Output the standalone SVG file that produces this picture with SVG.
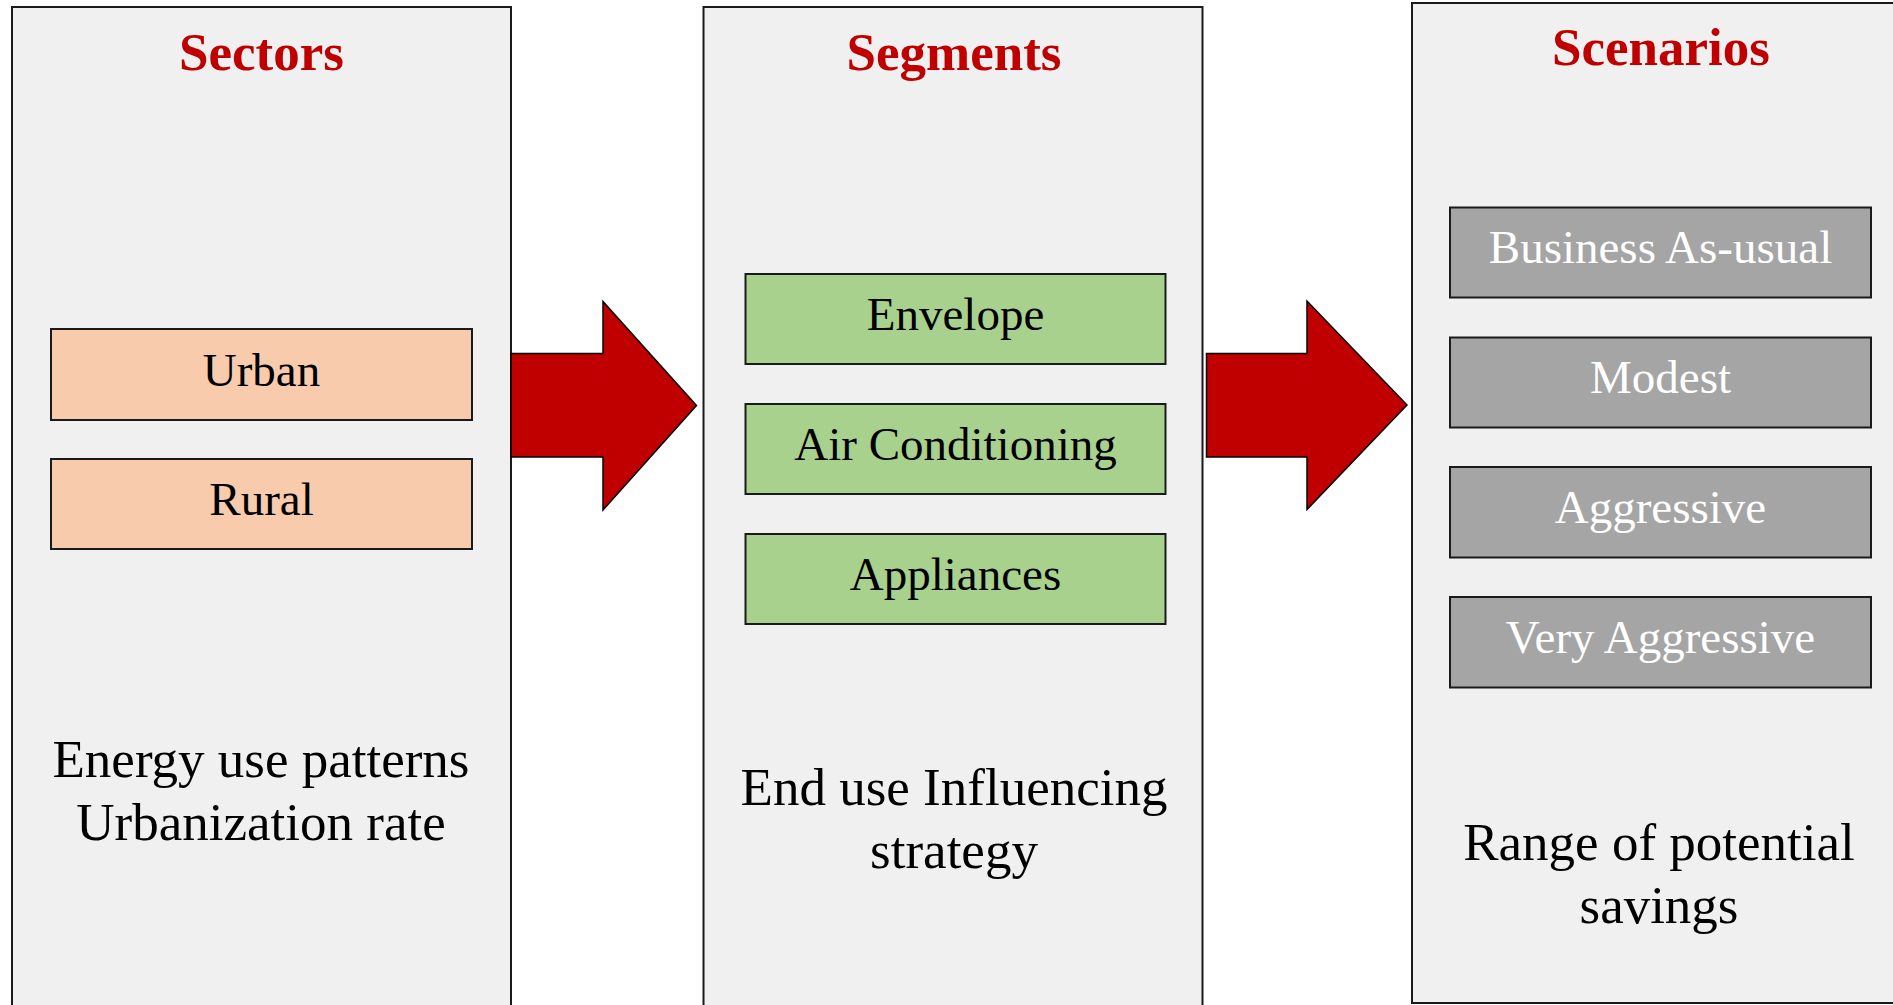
<svg xmlns="http://www.w3.org/2000/svg" width="1893" height="1005" viewBox="0 0 1893 1005">
  <style>
    .panel { fill: #f0f0f0; stroke: #1a1a1a; stroke-width: 2; }
    .title { font-family: "Liberation Serif", "Times New Roman", serif; font-weight: bold; font-size: 53px; fill: #c00000; text-anchor: middle; }
    .box { stroke: #1a1a1a; stroke-width: 2; }
    .sector { fill: #f8cbad; }
    .segment { fill: #a9d18e; }
    .scenario { fill: #a5a5a5; }
    .label { font-family: "Liberation Serif", "Times New Roman", serif; font-size: 47px; fill: #000; text-anchor: middle; }
    .label.light { fill: #ffffff; }
    .note { font-family: "Liberation Serif", "Times New Roman", serif; font-size: 53px; fill: #000; text-anchor: middle; }
    .arrow { fill: #c00000; stroke: #000; stroke-width: 1.5; stroke-linejoin: miter; }
  </style>
  <rect x="0" y="0" width="1893" height="1005" fill="#ffffff"/>

  <!-- Column 1: sectors -->
  <g id="sectors">
    <rect class="panel" x="12" y="7" width="499" height="1020"/>
    <text class="title" x="261.5" y="70">Sectors</text>
    <g id="sector-urban">
      <rect class="box sector" x="51" y="329" width="421" height="91"/>
      <text class="label" x="261.5" y="386">Urban</text>
    </g>
    <g id="sector-rural">
      <rect class="box sector" x="51" y="459" width="421" height="90"/>
      <text class="label" x="261.5" y="515">Rural</text>
    </g>
    <text class="note" x="261" y="777">Energy use patterns</text>
    <text class="note" x="261" y="840">Urbanization rate</text>
  </g>

  <!-- Column 2: segments -->
  <g id="segments">
    <rect class="panel" x="703.5" y="7" width="499" height="1020"/>
    <text class="title" x="954" y="70">Segments</text>
    <g id="segment-envelope">
      <rect class="box segment" x="745.5" y="274" width="420" height="90"/>
      <text class="label" x="955.5" y="330">Envelope</text>
    </g>
    <g id="segment-ac">
      <rect class="box segment" x="745.5" y="404" width="420" height="90"/>
      <text class="label" x="955.5" y="460">Air Conditioning</text>
    </g>
    <g id="segment-appliances">
      <rect class="box segment" x="745.5" y="534" width="420" height="90"/>
      <text class="label" x="955.5" y="590">Appliances</text>
    </g>
    <text class="note" x="954" y="805">End use Influencing</text>
    <text class="note" x="954" y="868">strategy</text>
  </g>

  <!-- Column 3: scenarios -->
  <g id="scenarios">
    <rect class="panel" x="1412" y="3" width="500" height="1000"/>
    <text class="title" x="1661" y="65">Scenarios</text>
    <g id="scenario-bau">
      <rect class="box scenario" x="1450" y="207.5" width="421" height="90"/>
      <text class="label light" x="1660.5" y="263">Business As-usual</text>
    </g>
    <g id="scenario-modest">
      <rect class="box scenario" x="1450" y="337.5" width="421" height="90"/>
      <text class="label light" x="1660.5" y="393">Modest</text>
    </g>
    <g id="scenario-aggressive">
      <rect class="box scenario" x="1450" y="467" width="421" height="90.5"/>
      <text class="label light" x="1660.5" y="523">Aggressive</text>
    </g>
    <g id="scenario-very-aggressive">
      <rect class="box scenario" x="1450" y="597" width="421" height="90.5"/>
      <text class="label light" x="1660.5" y="653">Very Aggressive</text>
    </g>
    <text class="note" x="1659" y="860">Range of potential</text>
    <text class="note" x="1659" y="923">savings</text>
  </g>

  <!-- Block arrows between columns -->
  <g id="connectors">
    <polygon class="arrow" points="511,353.5 603,353.5 603,301.5 696.5,405.5 603,510 603,457 511,457"/>
    <polygon class="arrow" points="1206.5,353.5 1307,353.5 1307,301 1407,405 1307,509.5 1307,457 1206.5,457"/>
  </g>
</svg>
